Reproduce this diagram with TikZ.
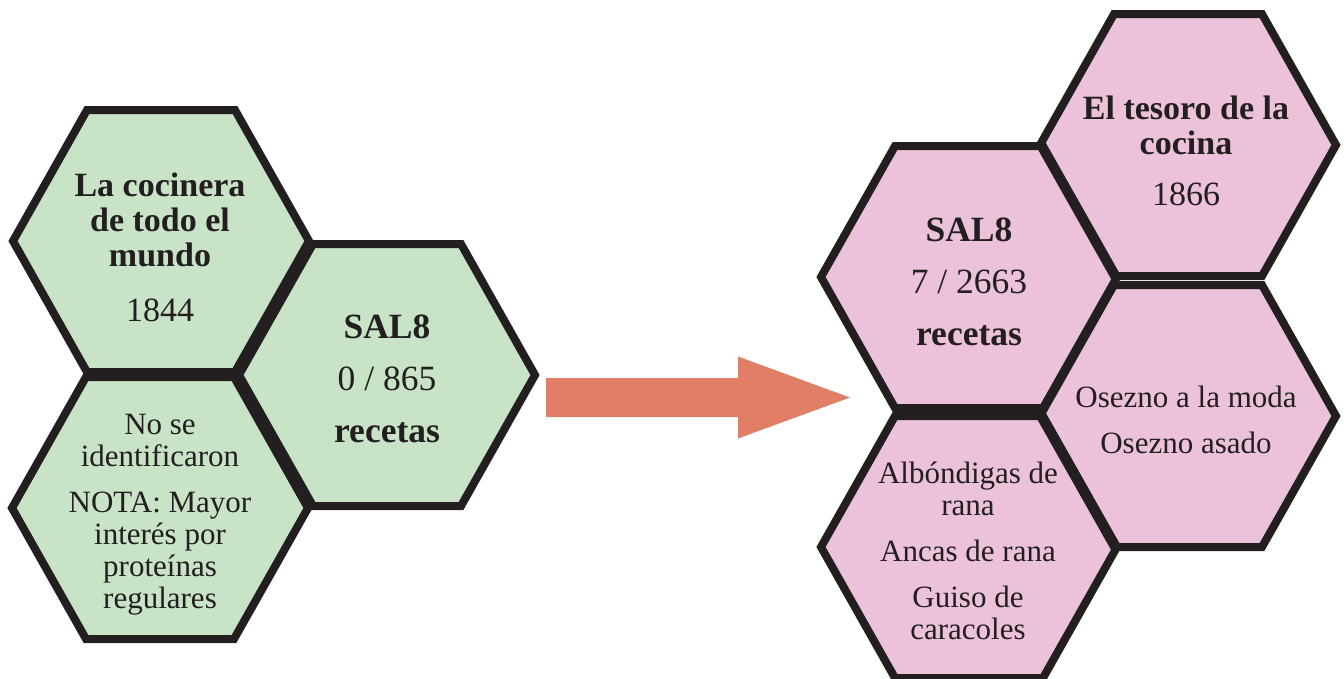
\documentclass[tikz,border=0pt]{standalone}
\usepackage{fontspec}
\setmainfont{Liberation Serif}
\definecolor{inkdark}{HTML}{231F20}
\definecolor{cellgreen}{HTML}{C8E3C6}
\definecolor{cellpink}{HTML}{ECC2DB}
\definecolor{arrowsalmon}{HTML}{E07F66}
% flat-topped hexagon around a named centre: half-width 148, half-height 131
\newcommand{\hexpath}[1]{(#1) ++(-148,0) -- ++(74,-131) -- ++(148,0) -- ++(74,131) -- ++(-74,131) -- ++(-148,0) -- cycle}
\begin{document}
\begin{tikzpicture}[x=1pt,y=-1pt,
  hexline/.style={draw=inkdark, line width=8pt, line join=miter},
  celltext/.style={align=center, inner sep=0pt, text=inkdark},
  bigfont/.style={font=\fontsize{34}{35}\selectfont},
  countfont/.style={font=\fontsize{35.5}{52}\selectfont},
  listfont/.style={font=\fontsize{31}{32}\selectfont}]
\useasboundingbox (0,0) rectangle (1344,678);

% cell centres
\coordinate (hA) at (161,241);   % green, book 1844
\coordinate (hB) at (160,508);   % green, notes
\coordinate (hC) at (387,375);   % green, SAL8 count
\coordinate (hD) at (969,277);   % pink, SAL8 count
\coordinate (hE) at (1188,145);  % pink, book 1866
\coordinate (hF) at (969,547);   % pink, frog and snail dishes
\coordinate (hG) at (1188,416);  % pink, bear cub dishes

% fills first, then outlines, so shared borders stay fully dark
\foreach \c in {hA,hB,hC} \fill[cellgreen] \hexpath{\c};
\foreach \c in {hD,hE,hF,hG} \fill[cellpink] \hexpath{\c};
\foreach \c in {hA,hB,hC,hD,hE,hF,hG} \draw[hexline] \hexpath{\c};

% cell labels
\node[celltext, bigfont] (tA) at (160,247)
  {\textbf{La cocinera}\\\textbf{de todo el}\\\textbf{mundo}\\[20pt]1844};
\node[celltext, listfont] (tB) at (160,515)
  {No se\\identificaron\\[14pt]NOTA: Mayor\\interés por\\proteínas\\regulares};
\node[celltext, countfont] (tC) at (387,379)
  {\textbf{SAL8}\\0 / 865\\\textbf{recetas}};
\node[celltext, countfont] (tD) at (969,282)
  {\textbf{SAL8}\\7 / 2663\\\textbf{recetas}};
\node[celltext, bigfont] (tE) at (1186,151)
  {\textbf{El tesoro de la}\\\textbf{cocina}\\[16pt]1866};
\node[celltext, listfont] (tF) at (968,551)
  {Albóndigas de\\rana\\[14pt]Ancas de rana\\[14pt]Guiso de\\caracoles};
\node[celltext, listfont] (tG) at (1186,420)
  {Osezno a la moda\\[14pt]Osezno asado};

% block arrow between the two groups
\coordinate (arrowtail) at (546,397.5);
\coordinate (arrowtip) at (850,397.5);
\fill[arrowsalmon] (arrowtail) ++(0,-19.5) -- ++(192,0) -- ++(0,-21.5)
  -- (arrowtip) -- ++(-112,41) -- ++(0,-21.5) -- ++(-192,0) -- cycle;
\end{tikzpicture}
\end{document}
